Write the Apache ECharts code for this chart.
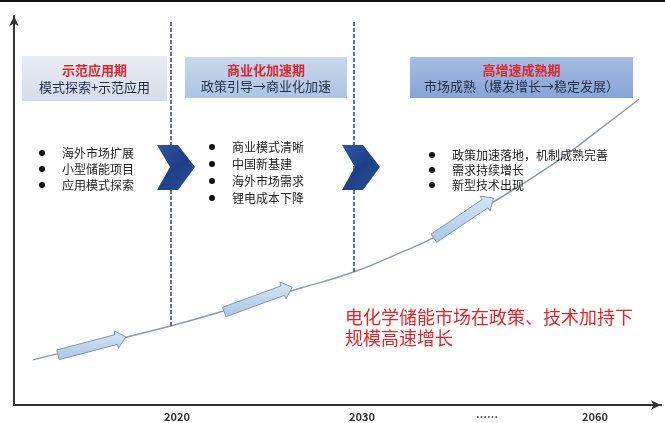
<!DOCTYPE html>
<html>
<head>
<meta charset="utf-8">
<script src="https://cdn.jsdelivr.net/npm/echarts@6/dist/echarts.min.js"></script>
<style>
  html, body { margin: 0; padding: 0; background: #fff; }
  #chart { width: 665px; height: 423px; }
</style>
</head>
<body>
<div id="chart"></div>
<script>
// Timeline axis: position of each tick label along the horizontal scale (0-100)
const yearTicks = [25.2, 53.8, 73.1, 89.8];
const yearLabels = ['2020', '2030', '……', '2060'];

// Growth curve of the electrochemical storage market (relative scale)
const growthX = [2.9, 12.9, 24.2, 36.1, 43.8, 52.5, 59.2, 65.3, 74.6, 83.8, 90.0, 96.6];
const growthY = [11.6, 15.7, 20.3, 26.0, 29.8, 34.2, 38.8, 43.4, 52.7, 62.5, 70.2, 78.6];

// Block arrows riding along the curve: [x1, y1, x2, y2]
const curveArrows = [
  [6.8, 12.9, 17.3, 17.5],
  [32.5, 23.9, 43.0, 30.3],
  [64.9, 42.9, 74.1, 53.2]
];

// Stage dividers (x position, bottom on the curve, top)
const dividerX = [24.3, 52.5];
const dividerBottom = [20.3, 34.2];
const dividerTop = 99;

// Stage headers and notes
const stageTitles = ['示范应用期', '商业化加速期', '高增速成熟期'];
const stageSubtitles = ['模式探索+示范应用', '政策引导→商业化加速', '市场成熟（爆发增长→稳定发展）'];
const stageBullets = [
  ['海外市场扩展', '小型储能项目', '应用模式探索'],
  ['商业模式清晰', '中国新基建', '海外市场需求', '锂电成本下降'],
  ['政策加速落地，机制成熟完善', '需求持续增长', '新型技术出现']
];
const summaryLines = ['电化学储能市场在政策、技术加持下', '规模高速增长'];

const FONT = '"Noto Sans CJK SC", "Noto Sans", sans-serif';

const chart = echarts.init(document.getElementById('chart'), null, { renderer: 'canvas' });

// Stage header boxes
const boxes = [
  { x: 22, y: 56, w: 145, h: 45, c0: '#e9ecf4', c1: '#d6dcec' },
  { x: 185, y: 57, w: 162, h: 41, c0: '#c7d6ec', c1: '#aec4e4' },
  { x: 410, y: 57, w: 223, h: 41, c0: '#a6bde2', c1: '#87a4d4' }
];
const bulletLayout = [
  { bx: 42, tx: 62, y0: 153, dy: 16 },
  { bx: 212, tx: 232, y0: 147, dy: 17 },
  { bx: 432, tx: 452, y0: 155, dy: 15 }
];

const graphics = [];
// top frame rule
graphics.push({
  type: 'line', shape: { x1: 0, y1: 1, x2: 665, y2: 1 },
  style: { stroke: '#111', lineWidth: 2 }, z: 10
});

boxes.forEach((b, i) => {
  graphics.push({
    type: 'rect', shape: { x: b.x, y: b.y, width: b.w, height: b.h },
    style: {
      fill: new echarts.graphic.LinearGradient(0, 0, 0, 1, [
        { offset: 0, color: b.c0 }, { offset: 1, color: b.c1 }
      ])
    }, z: 5
  });
  const cx = b.x + b.w / 2;
  graphics.push({
    type: 'text', z: 6,
    style: {
      x: cx, y: b.y + b.h * 0.32, text: stageTitles[i], fill: '#e0262b',
      font: 'bold 13px ' + FONT, textAlign: 'center', textVerticalAlign: 'middle'
    }
  });
  graphics.push({
    type: 'text', z: 6,
    style: {
      x: cx, y: b.y + b.h * 0.7, text: stageSubtitles[i], fill: '#1f2b4a',
      font: '13px ' + FONT, textAlign: 'center', textVerticalAlign: 'middle'
    }
  });
});

stageBullets.forEach((items, i) => {
  const L = bulletLayout[i];
  items.forEach((t, k) => {
    const y = L.y0 + k * L.dy;
    graphics.push({
      type: 'circle', shape: { cx: L.bx, cy: y, r: 3 },
      style: { fill: '#111' }, z: 6
    });
    graphics.push({
      type: 'text', z: 6,
      style: {
        x: L.tx, y: y, text: t, fill: '#222',
        font: '12px ' + FONT, textVerticalAlign: 'middle'
      }
    });
  });
});

// chevrons marking stage transitions
[0, 185].forEach(dx => {
  graphics.push({
    type: 'polygon', z: 7,
    shape: {
      points: [[157 + dx, 145], [178 + dx, 145], [195 + dx, 167],
               [178 + dx, 190], [157 + dx, 190], [170 + dx, 167]]
    },
    style: {
      fill: new echarts.graphic.LinearGradient(0, 0, 1, 1, [
        { offset: 0, color: '#2d56a3' }, { offset: 0.5, color: '#1f3f85' }, { offset: 1, color: '#2a4f98' }
      ])
    }
  });
});

summaryLines.forEach((t, k) => {
  graphics.push({
    type: 'text', z: 6,
    style: {
      x: 345, y: 317 + k * 21, text: t, fill: '#e0262b',
      font: '18px ' + FONT, textVerticalAlign: 'middle'
    }
  });
});

const option = {
  animation: false,
  backgroundColor: '#fff',
  grid: { left: 14, right: 4, top: 16, bottom: 18 },
  xAxis: {
    type: 'value', min: 0, max: 100,
    splitLine: { show: false },
    axisTick: { show: false },
    axisLine: {
      show: true, onZero: false,
      symbol: ['none', 'arrow'], symbolSize: [7, 10], symbolOffset: [0, 0],
      lineStyle: { color: '#333', width: 2 }
    },
    axisLabel: {
      customValues: yearTicks,
      formatter: v => {
        const i = yearTicks.indexOf(v);
        return i >= 0 ? yearLabels[i] : '';
      },
      color: '#333', fontSize: 11, fontWeight: 'bold', margin: 6, fontFamily: FONT
    }
  },
  yAxis: {
    type: 'value', min: 0, max: 100,
    splitLine: { show: false },
    axisTick: { show: false },
    axisLabel: { show: false },
    axisLine: {
      show: true, onZero: false,
      symbol: ['none', 'arrow'], symbolSize: [7, 10],
      lineStyle: { color: '#333', width: 2 }
    }
  },
  series: [
    {
      type: 'line',
      data: growthX.map((x, i) => [x, growthY[i]]),
      smooth: true,
      symbol: 'none',
      lineStyle: { color: '#8d9aab', width: 1.5 },
      z: 3,
      markLine: {
        silent: true, symbol: 'none', label: { show: false },
        lineStyle: { color: '#2b3f8a', width: 1.5, type: [4, 2] },
        data: dividerX.map((x, i) => [
          { coord: [x, dividerBottom[i]] },
          { coord: [x, dividerTop] }
        ])
      }
    },
    {
      type: 'custom',
      data: curveArrows,
      encode: { x: [0, 2], y: [1, 3] },
      z: 4,
      renderItem: (params, api) => {
        const p1 = api.coord([api.value(0), api.value(1)]);
        const p2 = api.coord([api.value(2), api.value(3)]);
        const dx = p2[0] - p1[0], dy = p2[1] - p1[1];
        const len = Math.sqrt(dx * dx + dy * dy);
        const ux = dx / len, uy = dy / len;
        const nx = -uy, ny = ux;
        const sw = 5, hw = 9, hl = 10;
        const bx = p2[0] - ux * hl, by = p2[1] - uy * hl;
        const pts = [
          [p1[0] + nx * sw, p1[1] + ny * sw],
          [bx + nx * sw, by + ny * sw],
          [bx + nx * hw, by + ny * hw],
          [p2[0], p2[1]],
          [bx - nx * hw, by - ny * hw],
          [bx - nx * sw, by - ny * sw],
          [p1[0] - nx * sw, p1[1] - ny * sw]
        ];
        return {
          type: 'polygon',
          shape: { points: pts },
          style: {
            fill: new echarts.graphic.LinearGradient(0, 0, 0, 1, [
              { offset: 0, color: '#d8e6f5' }, { offset: 1, color: '#a9c5e4' }
            ]),
            stroke: '#7f97b8', lineWidth: 1
          }
        };
      }
    }
  ],
  graphic: graphics
};

chart.setOption(option);
</script>
</body>
</html>
